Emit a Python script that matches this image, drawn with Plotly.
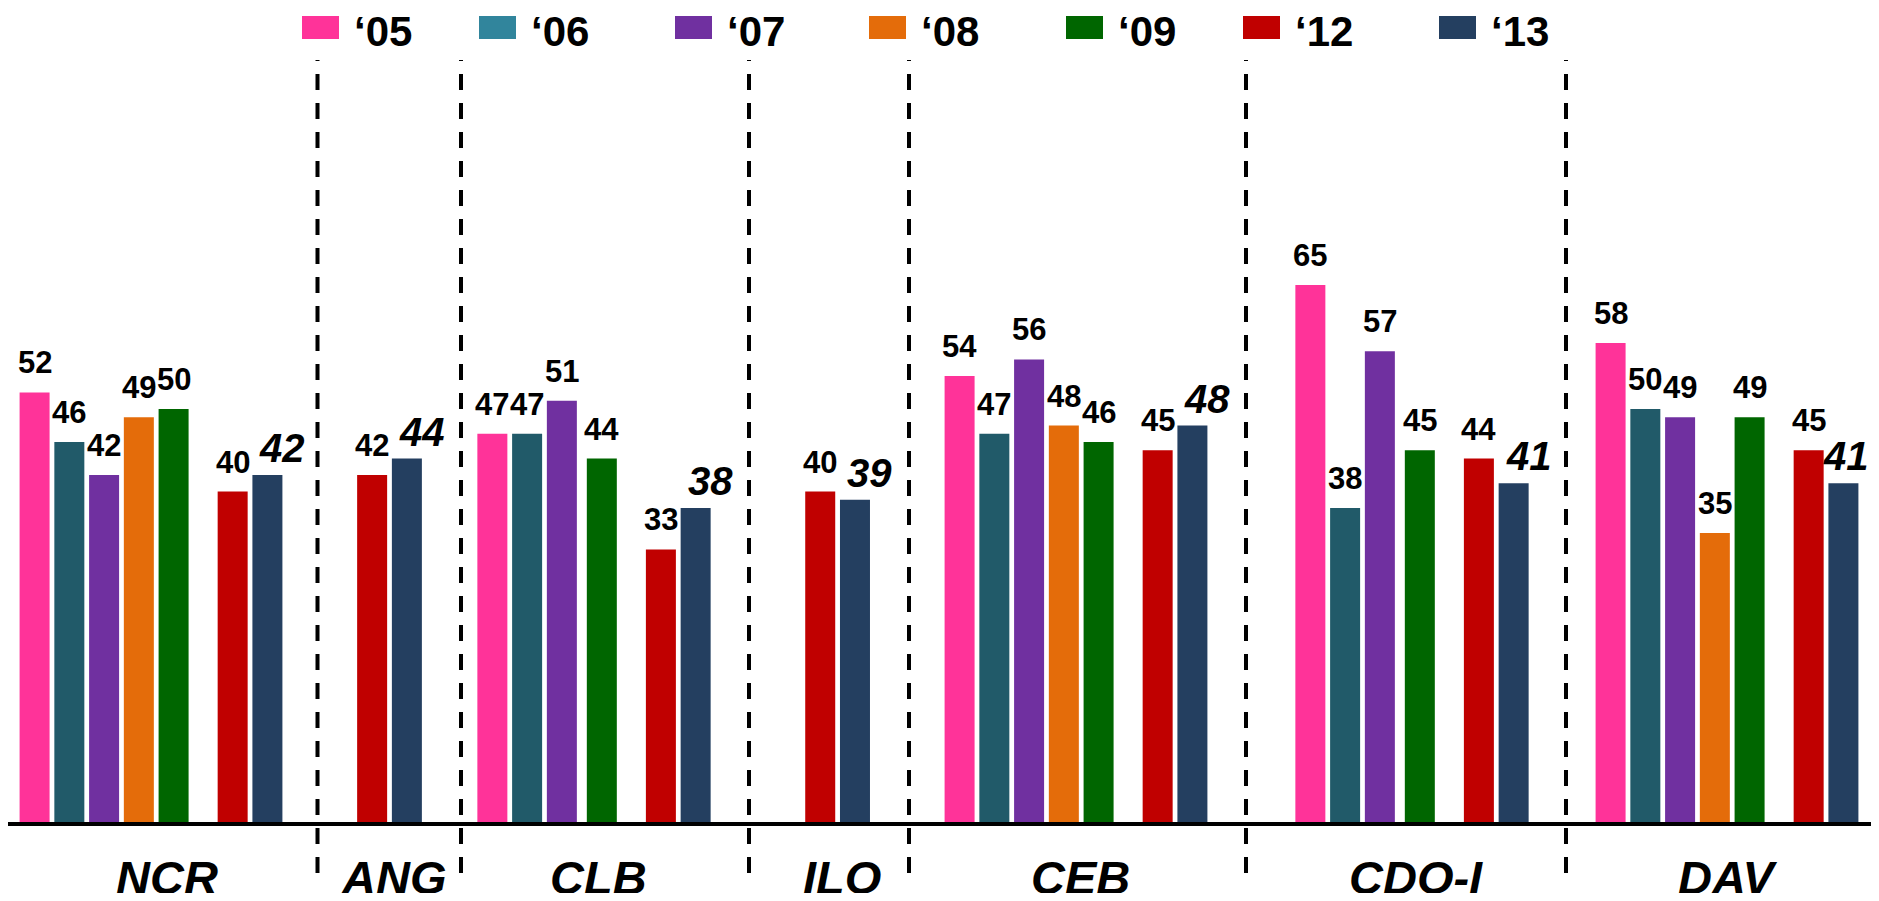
import plotly.graph_objects as go

# regions along the bottom
regions = ["NCR", "ANG", "CLB", "ILO", "CEB", "CDO-I", "DAV"]

# years shown in the legend
years = ["‘05", "‘06", "‘07", "‘08", "‘09", "‘12", "‘13"]

# values per year, one entry per region (None = no bar)
v05 = [52, None, 47, None, 54, 65, 58]
v06 = [46, None, 47, None, 47, 38, 50]
v07 = [42, None, 51, None, 56, 57, 49]
v08 = [49, None, None, None, 48, None, 35]
v09 = [50, None, 44, None, 46, 45, 49]
v12 = [40, 42, 33, 40, 45, 44, 45]
v13 = [42, 44, 38, 39, 48, 41, 41]

series = [v05, v06, v07, v08, v09, v12, v13]

# styling / layout
bar_colors = ["#FF3399", "#215A69", "#7030A0", "#E46C0A", "#006600", "#C00000", "#243F60"]
legend_colors = ["#FF3399", "#31859C", "#7030A0", "#E46C0A", "#006600", "#C00000", "#243F60"]
FONT = "Liberation Sans, Arial, sans-serif"

# the page puts the plot 8px in from the window edge, so the axes are
# set up in window pixels: x = window px, y = value (baseline at window y 822)
PAGE_OFF = 8
WIN_W, WIN_H = 1879, 901
BASE = 822
PX_PER_UNIT = 8.26


def yv(p):
    # window y pixel -> value units
    return (BASE - p) / PX_PER_UNIT


PITCH = 34.75                    # distance between neighbouring bars
BAR_W = 30
GAP_12 = 0.7                     # extra space before the '12 bar
GAP_MISSING = 0.15               # small extra space where a year is missing
group_centre = [151, 389.5, 594, 837.6, 1076, 1412, 1727]
label_nudge = [16, 4, 4, 4, 4, 4, 0]
separators = [317.5, 461, 749, 909, 1246, 1566]
legend_sq_x = [302, 479, 675, 869, 1066, 1243, 1439]

# work out each bar's x from the rule above
xpos = [[None] * len(regions) for _ in years]
for r in range(len(regions)):
    offs = []
    cur = None
    pending = 0.0
    for k in range(len(years)):
        val = series[k][r]
        if val is None:
            if cur is not None:
                pending += GAP_MISSING
            continue
        if cur is None:
            cur = 0.0
        else:
            cur += 1 + pending
            if k == 5:
                cur += GAP_12
        pending = 0.0
        offs.append((k, cur))
    mid = (offs[0][1] + offs[-1][1]) / 2
    for k, o in offs:
        xpos[k][r] = group_centre[r] + (o - mid) * PITCH

fig = go.Figure()
annotations = []
right_edge = WIN_W - PAGE_OFF - 2
for k, yr in enumerate(years):
    xs = [x for x, v in zip(xpos[k], series[k]) if v is not None]
    ys = [v for v in series[k] if v is not None]
    fig.add_trace(go.Bar(
        x=xs, y=ys, name=yr, width=BAR_W,
        marker=dict(color=bar_colors[k], line=dict(width=0)),
        showlegend=False, hoverinfo="x+y",
    ))
    last = k == len(years) - 1
    for x, v in zip(xs, ys):
        xs_shift = 0
        if last:
            # italic '13 labels sit a little to the right, but keep them on the page
            xs_shift = min(15, right_edge - 23 - x)
        annotations.append(dict(
            x=x, y=v, xref="x", yref="y", text=str(v), showarrow=False,
            xanchor="center", yanchor="bottom",
            xshift=xs_shift, yshift=3 if last else 10,
            font=dict(family=FONT, size=40 if last else 31, color="black",
                      weight="bold", style="italic" if last else "normal"),
        ))

# region names under the axis
for r, name in enumerate(regions):
    annotations.append(dict(
        x=group_centre[r] + label_nudge[r], y=yv(877), xref="x", yref="y", text=name,
        showarrow=False, xanchor="center", yanchor="middle",
        font=dict(family=FONT, size=47, color="black", weight="bold", style="italic"),
    ))

shapes = []
# hand-made legend
for k, yr in enumerate(years):
    shapes.append(dict(type="rect", xref="x", yref="y",
                       x0=legend_sq_x[k], x1=legend_sq_x[k] + 37,
                       y0=yv(39), y1=yv(16),
                       fillcolor=legend_colors[k], line=dict(width=0)))
    annotations.append(dict(
        x=legend_sq_x[k] + 50, y=yv(31), xref="x", yref="y",
        text=yr, showarrow=False, xanchor="left", yanchor="middle",
        font=dict(family=FONT, size=42, color="black", weight="bold"),
    ))

# dashed separators between regions
for sx in separators:
    shapes.append(dict(type="line", xref="x", yref="y", x0=sx, x1=sx,
                       y0=yv(873), y1=yv(60),
                       line=dict(color="black", width=4, dash="16px,13px")))

# baseline
shapes.append(dict(type="line", xref="paper", yref="y", x0=0, x1=1,
                   y0=yv(824), y1=yv(824),
                   line=dict(color="black", width=4)))

fig.update_layout(
    barmode="overlay",
    paper_bgcolor="white", plot_bgcolor="white",
    margin=dict(l=0, r=0, t=0, b=0),
    xaxis=dict(visible=False, range=[PAGE_OFF, WIN_W - PAGE_OFF], fixedrange=True),
    yaxis=dict(visible=False, range=[yv(WIN_H - PAGE_OFF), yv(PAGE_OFF)], fixedrange=True),
    shapes=shapes, annotations=annotations,
    showlegend=False,
)

fig.write_html("out.html")
